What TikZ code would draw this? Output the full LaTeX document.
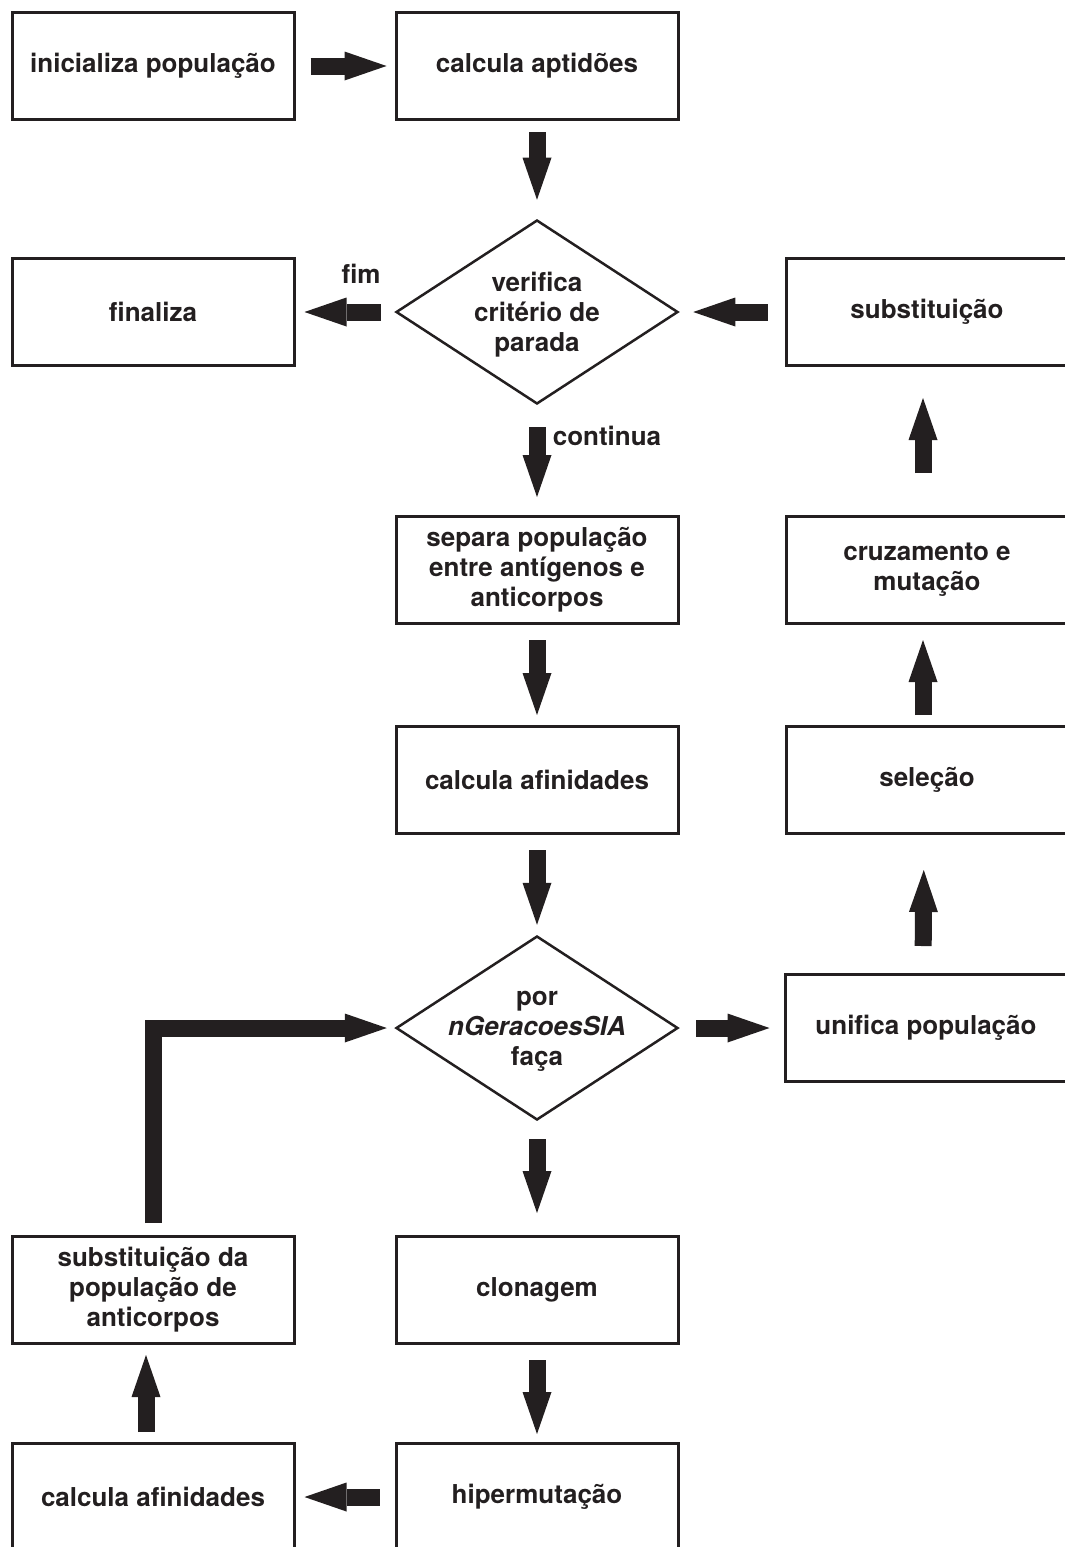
\documentclass[tikz,border=0pt]{standalone}
\usepackage{fontspec}
\setmainfont{TeX Gyre Heros}
\usetikzlibrary{shapes.geometric, arrows.meta, positioning}
\definecolor{ink}{RGB}{35, 31, 32}

\begin{document}
\begin{tikzpicture}[x=1pt, y=-1pt,
  box/.style={draw=ink, line width=3pt, minimum width=282pt, minimum height=107pt, align=center, text=ink, font=\fontsize{26}{30}\selectfont\bfseries},
  decision/.style={draw=ink, diamond, line width=2.5pt, minimum width=282pt, minimum height=184pt, inner sep=0pt},
  inside/.style={align=center, text=ink, yshift=-3pt, font=\fontsize{26}{30}\selectfont\bfseries},
  tag/.style={text=ink, font=\fontsize{26}{30}\selectfont\bfseries},
  flow/.style={draw=ink, line width=17pt, -{Triangle[length=42pt, width=29pt, line width=0pt]}, shorten <=15pt, shorten >=10pt},
]
\useasboundingbox (0,0) rectangle (1065,1547);

% Main loop
\node[box] (init) at (153,66) {inicializa população};
\node[box] (aptid) at (537,66) {calcula aptidões};
\node[decision, label={[inside]center:{verifica\\critério de\\parada}}] (stop) at (537,312) {};
\node[box] (final) at (153,312) {finaliza};
\node[box] (subst) at (927,312) {substituição};
\node[tag] (fimtag) at (361,274) {fim};
\node[tag] (conttag) at (607,436) {continua};

% Immune system part
\node[box] (separa) at (537,570) {separa população\\entre antígenos e\\anticorpos};
\node[box] (afin) at (537,780) {calcula afinidades};
\node[decision, label={[inside]center:{por\\\textit{nGeracoesSIA}\\faça}}] (gen) at (537,1028) {};
\node[box] (clon) at (537,1290) {clonagem};
\node[box] (hiper) at (537,1497) {hipermutação};
\node[box] (afintwo) at (153,1497) {calcula afinidades};
\node[box] (subpop) at (153,1290) {substituição da\\população de\\anticorpos};

% Genetic part
\node[box] (unif) at (926,1028) {unifica população};
\node[box] (selec) at (927,780) {seleção};
\node[box] (cruz) at (927,570) {cruzamento e\\mutação};

% Connectors
\draw[flow, shorten >=8pt] (init) -- (aptid);
\draw[flow, shorten <=11pt, shorten >=19pt] (aptid) -- (stop);
\draw[flow, shorten <=14pt, shorten >=9pt] (stop) -- (final);
\draw[flow, shorten <=17pt, shorten >=14pt] (subst) -- (stop);
\draw[flow, shorten <=22pt, shorten >=18pt] (stop) -- (separa);
\draw[flow] (separa) -- (afin);
\draw[flow] (afin) -- (gen);
\draw[flow, shorten <=17pt, shorten >=14pt] (gen) -- (unif);
\draw[flow, shorten <=18pt, shorten >=22pt] (gen) -- (clon);
\draw[flow, shorten >=8pt] (clon) -- (hiper);
\draw[flow, shorten >=9pt] (hiper) -- (afintwo);
\draw[flow, shorten <=10pt] ([xshift=-7pt]afintwo.north) -- ([xshift=-7pt]subpop.south);
\draw[flow, shorten <=12pt, shorten >=8pt] (subpop.north) |- (gen.west);
\draw[flow, shorten <=27pt, shorten >=35pt] ([xshift=-3pt]unif.north) -- ([xshift=-3pt]selec.south);
\draw[flow, shorten <=10pt, shorten >=15pt] ([xshift=-4pt]selec.north) -- ([xshift=-4pt]cruz.south);
\draw[flow, shorten <=42pt, shorten >=31pt] ([xshift=-4pt]cruz.north) -- ([xshift=-4pt]subst.south);
\end{tikzpicture}
\end{document}
